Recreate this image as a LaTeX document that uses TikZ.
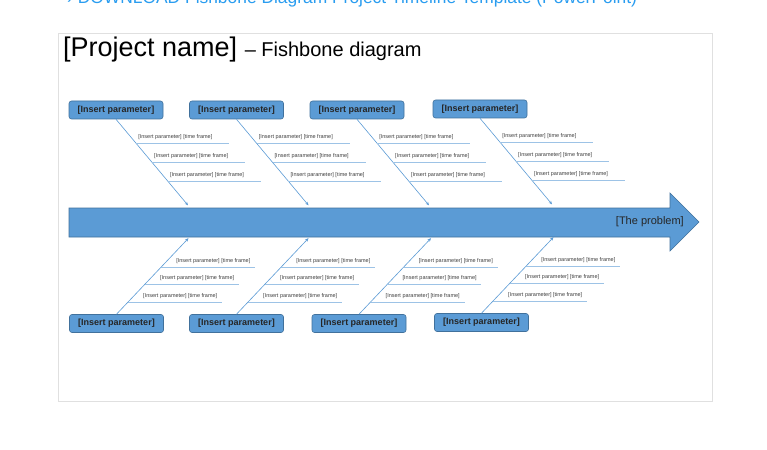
\documentclass[tikz,border=0pt]{standalone}
\usepackage{fontspec}
\setmainfont{Liberation Sans}
\usetikzlibrary{arrows.meta,calc}
\definecolor{fbblue}{HTML}{5B9BD5}
\definecolor{fbedge}{HTML}{41719C}
\definecolor{fbline}{HTML}{9DC3E6}
\definecolor{fblink}{HTML}{2A9DF0}
\definecolor{fbtext}{HTML}{404040}
\tikzset{
  parambox/.style={draw=fbedge, fill=fbblue, rounded corners=2.5pt, line width=0.6pt,
    minimum width=94pt, minimum height=18pt, inner sep=0pt,
    font=\fontsize{9}{10}\selectfont\bfseries, text=black!85},
  bone/.style={draw=fbblue, line width=0.6pt, -{Stealth[length=3.5pt,width=3pt]}},
  subbone/.style={draw=fbline, line width=1pt},
  sublabel/.style={font=\fontsize{5.5}{6}\selectfont, text=fbtext, inner sep=0pt, anchor=base west},
}
\begin{document}
\begin{tikzpicture}[x=1pt,y=-1pt]
\useasboundingbox (0,0) rectangle (767,449);
\fill[white] (0,0) rectangle (767,449);
% link text, cut off at the top edge as in the reference
\node[anchor=base west, inner sep=0pt, text=fblink, font=\fontsize{17.4}{18}\selectfont] (link) at (67,4) {› DOWNLOAD Fishbone Diagram Project Timeline Template (PowerPoint)};
% frame
\draw[black!12, line width=0.8pt] (58,33) rectangle (712,401);
% title
\node[anchor=base west, inner sep=0pt] (title) at (63,57) {\fontsize{27}{28}\selectfont [Project name] \fontsize{20}{22}\selectfont – Fishbone diagram};
% main arrow
\filldraw[fill=fbblue, draw=fbedge, line width=0.6pt]
  (69,208) -- (670,208) -- (670,193) -- (699,222) -- (670,251) -- (670,237) -- (69,237) -- cycle;
\node[anchor=east, inner sep=0pt, font=\fontsize{11}{12}\selectfont, text=black!85] (problem) at (684,222) {[The problem]};
% top boxes and bones
\foreach \i/\x/\y in {1/116/110, 2/236.5/110, 3/357/110, 4/480/109}{
  \node[parambox] (t\i) at (\x,\y) {[Insert parameter]};
  \coordinate (te\i) at ($(t\i.south)+(72,86)$);
  \draw[bone] (t\i.south) -- (te\i);
  \foreach \j/\t in {1/0.28, 2/0.5, 3/0.72}{
    \coordinate (ts\i\j) at ($(t\i.south)!\t!(te\i)$);
    \coordinate (tf\i\j) at ($(ts\i\j)+(93,0)$);
    \draw[subbone] (ts\i\j) -- (tf\i\j);
    \node[sublabel] (tl\i\j) at ($(ts\i\j)+(2,-5)$) {[Insert parameter] [time frame]};
  }
}
% bottom boxes and bones
\foreach \i/\x/\y in {1/116.5/323.5, 2/236.5/323.5, 3/359/323.5, 4/481.5/322.5}{
  \node[parambox] (b\i) at (\x,\y) {[Insert parameter]};
  \coordinate (be\i) at ($(b\i.north)+(72,-76)$);
  \draw[bone] (b\i.north) -- (be\i);
  \foreach \j/\t in {1/0.62, 2/0.395, 3/0.16}{
    \coordinate (bs\i\j) at ($(b\i.north)!\t!(be\i)$);
    \coordinate (bf\i\j) at ($(bs\i\j)+(94,0)$);
    \draw[subbone] (bs\i\j) -- (bf\i\j);
    \node[sublabel] (bl\i\j) at ($(bs\i\j)+(15,-5)$) {[Insert parameter] [time frame]};
  }
}
\end{tikzpicture}
\end{document}
